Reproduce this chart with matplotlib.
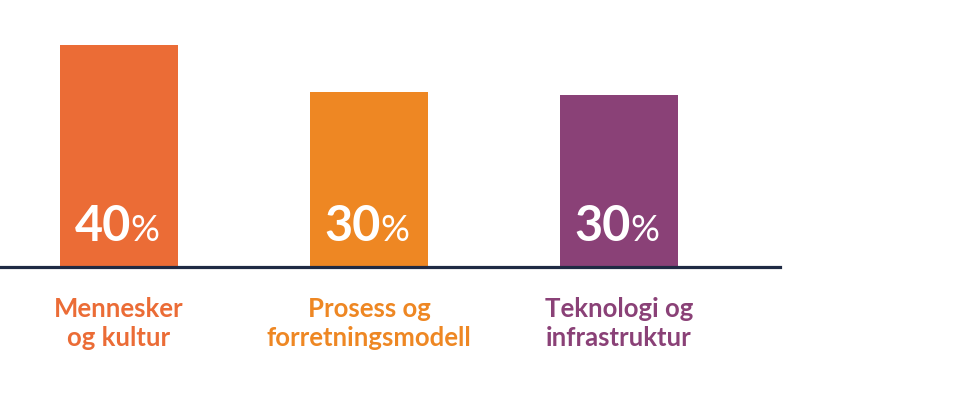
import matplotlib
matplotlib.use("Agg")
import matplotlib.pyplot as plt

# data
categories = ["Mennesker\nog kultur", "Prosess og\nforretningsmodell", "Teknologi og\ninfrastruktur"]
bar_heights = [40, 31.5, 31.0]
value_labels = ["40", "30", "30"]
colors = ["#EB6C36", "#EE8723", "#8A4177"]

W, H, DPI = 973, 403, 100
fig = plt.figure(figsize=(W / DPI, H / DPI), dpi=DPI)
fig.patch.set_facecolor("white")

base_px = 267  # baseline from top
ax = fig.add_axes([0, 1 - base_px / H, 1, base_px / H])
ax.set_axis_off()

spacing = 250.0
x0_px = 119.0
ax.set_xlim(-x0_px / spacing, (W - x0_px) / spacing)
ax.set_ylim(0, 40 * base_px / 222)

xs = list(range(len(categories)))
ax.bar(xs, bar_heights, width=118 / spacing, color=colors, zorder=2)

ax.axhline(0, xmin=0, xmax=780 / W, color="#1F2A44", lw=2.3, zorder=3, clip_on=False)

px = 72 / DPI  # points per pixel
for x, lab in zip(xs, value_labels):
    ax.annotate(lab, (x, 0), xytext=(12 * px, 26 * px), textcoords="offset points",
                ha="right", va="baseline", color="white", fontsize=35,
                fontweight="bold", family="Lato", zorder=4)
    ax.annotate("%", (x, 0), xytext=(11 * px, 26 * px), textcoords="offset points",
                ha="left", va="baseline", color="white", fontsize=26,
                family="Lato", zorder=4)

for x, cat, col in zip(xs, categories, colors):
    ax.annotate(cat, (x, 0), xytext=(0, -79 * px), textcoords="offset points",
                ha="center", va="baseline", color=col, fontsize=18.5,
                fontweight="bold", family="Lato", linespacing=1.25,
                annotation_clip=False)

fig.savefig("out.png", dpi=DPI, facecolor="white")
